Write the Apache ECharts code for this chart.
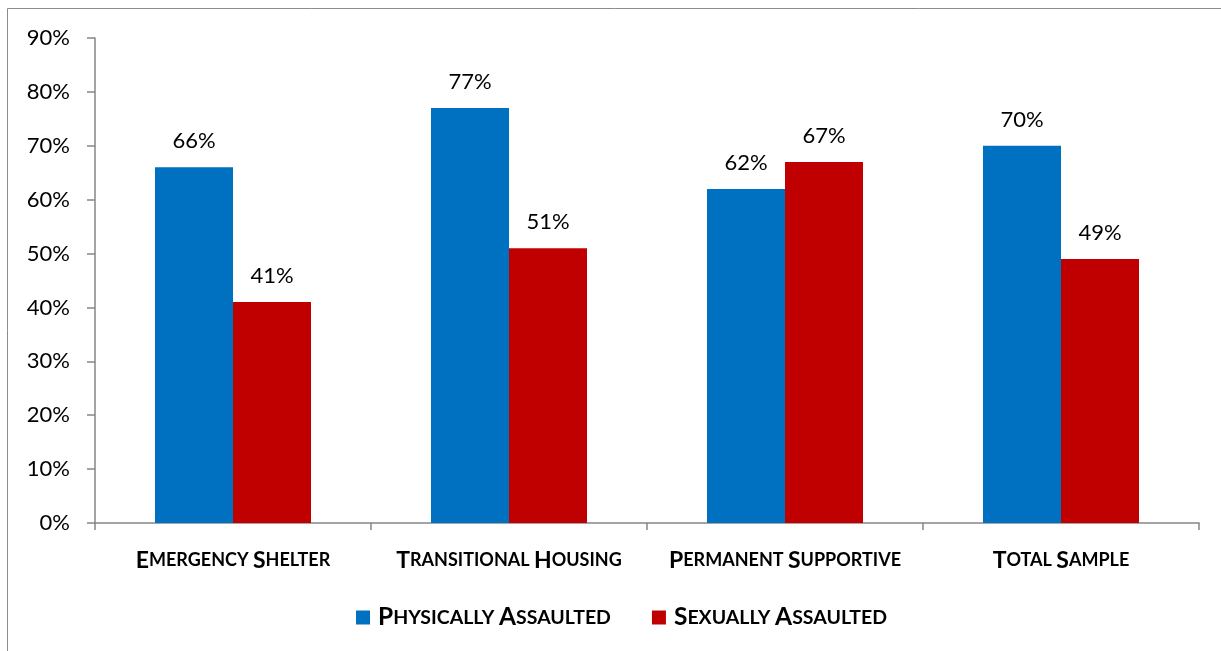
<!DOCTYPE html>
<html><head><meta charset="utf-8">
<script src="https://cdn.jsdelivr.net/npm/echarts@6/dist/echarts.min.js"></script>
<style>html,body{margin:0;padding:0;background:#fff}#c{width:1221px;height:651px}</style>
</head><body><div id="c"></div>
<script>
const categories = ['Emergency Shelter','Transitional Housing','Permanent Supportive','Total Sample'];
const seriesNames = ['Physically Assaulted','Sexually Assaulted'];
const physically = [66, 77, 62, 70];
const sexually = [41, 51, 67, 49];
const colors = ['#0070C0', '#C00000'];

function smallCaps(s){
  return s.split(' ').map(w => '{a|' + w[0].toUpperCase() + '}{b|' + w.slice(1).toUpperCase() + '}').join('{b| }');
}
const FONT = 'Lato';
const chart = echarts.init(document.getElementById('c'));
chart.setOption({
  animation: false,
  graphic: [{type:'rect', shape:{x:7.5, y:8.5, width:1400, height:800}, style:{fill:'none', stroke:'#8c8c8c', lineWidth:1}}],
  grid: {left: 95, top: 38, right: 22, bottom: 128},
  legend: {
    top: 605, left: 356, itemWidth: 14, itemHeight: 14, itemGap: 41,
    icon: 'rect', padding: 0,
    formatter: n => '{s|}' + smallCaps(n),
    textStyle: {fontFamily: FONT, rich: {
      s: {width: 3},
      a: {fontSize: 24.5, fontWeight: 'bold', color: '#000', fontFamily: FONT},
      b: {fontSize: 19.5, fontWeight: 'bold', color: '#000', fontFamily: FONT}
    }},
    data: seriesNames
  },
  xAxis: {
    type: 'category', data: categories,
    axisLine: {lineStyle: {color: '#868686', width: 1.5}},
    axisTick: {show: true, length: 7, lineStyle: {color: '#868686', width: 1.5}},
    axisLabel: {interval: 0, margin: 26, formatter: v => smallCaps(v), rich: {
      a: {fontSize: 23, fontWeight: 'bold', color: '#000', fontFamily: FONT},
      b: {fontSize: 18, fontWeight: 'bold', color: '#000', fontFamily: FONT}
    }}
  },
  yAxis: {
    type: 'value', min: 0, max: 90, interval: 10,
    splitLine: {show: false},
    axisLine: {show: true, lineStyle: {color: '#868686', width: 1.5}},
    axisTick: {show: true, length: 8, lineStyle: {color: '#868686', width: 1.5}},
    axisLabel: {formatter: '{value}%', fontSize: 22, color: '#000', fontFamily: FONT, margin: 25}
  },
  series: [
    {name: seriesNames[0], type: 'bar', data: physically, barWidth: 78, barGap: '0%', itemStyle: {color: colors[0]},
     label: {show: true, position: 'top', distance: 15, formatter: '{c}%', fontSize: 22, color: '#000', fontFamily: FONT}},
    {name: seriesNames[1], type: 'bar', data: sexually, barWidth: 78, barGap: '0%', itemStyle: {color: colors[1]},
     label: {show: true, position: 'top', distance: 15, formatter: '{c}%', fontSize: 22, color: '#000', fontFamily: FONT}}
  ]
});
</script></body></html>
